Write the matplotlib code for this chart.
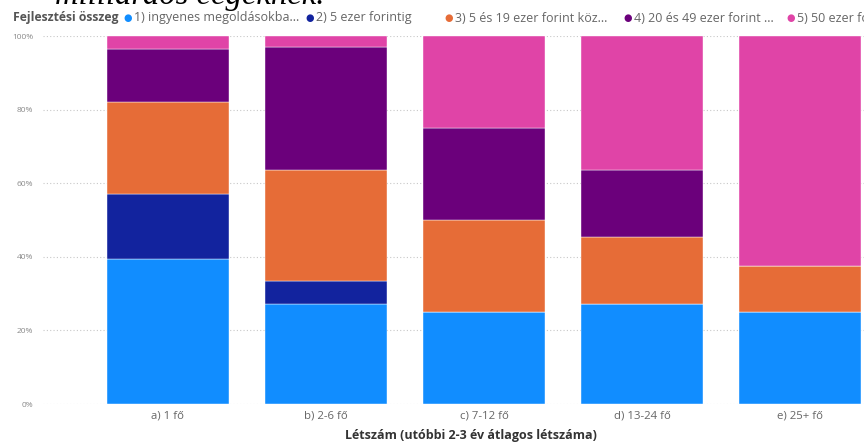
import numpy as np
import matplotlib.pyplot as plt

# share of answers (%) per headcount group, stacked bottom to top
categories = ["a) 1 fő", "b) 2-6 fő", "c) 7-12 fő", "d) 13-24 fő", "e) 25+ fő"]
ingyenes = [39.3, 27.3, 25.0, 27.3, 25.0]
ezer_5 = [17.9, 6.1, 0.0, 0.0, 0.0]
ezer_5_19 = [25.0, 30.3, 25.0, 18.2, 12.5]
ezer_20_49 = [14.3, 33.3, 25.0, 18.2, 0.0]
ezer_50 = [3.5, 3.0, 25.0, 36.3, 62.5]

series = [ingyenes, ezer_5, ezer_5_19, ezer_20_49, ezer_50]
legend_labels = ["1) ingyenes megoldásokba...", "2) 5 ezer forintig",
                 "3) 5 és 19 ezer forint köz...", "4) 20 és 49 ezer forint ...",
                 "5) 50 ezer forint felett"]
colors = ["#118DFF", "#12239E", "#E66C37", "#6B007B", "#E044A7"]

W, H = 864, 444
fig = plt.figure(figsize=(W / 100, H / 100), dpi=100)
ax = fig.add_axes([43 / W, 40 / H, 1 - 43 / W, 368 / H])

x = np.arange(len(categories))
bottom = np.zeros(len(categories))
for vals, col in zip(series, colors):
    vals = np.array(vals)
    ax.bar(x, vals, width=0.772, bottom=bottom, color=col,
           edgecolor="white", linewidth=0.3, zorder=2)
    bottom += vals

ax.set_xlim(-0.791, 4.405)
ax.set_ylim(0, 100)
ax.set_yticks([0, 20, 40, 60, 80, 100])
ax.set_yticklabels(["%d%%" % v for v in [0, 20, 40, 60, 80, 100]],
                   fontsize=6, color="#8a8a8a", family="Open Sans")
ax.set_xticks(x)
ax.set_xticklabels(categories, fontsize=8.2, color="#666666", family="Open Sans")
ax.tick_params(length=0)
ax.tick_params(axis="y", pad=7)
ax.tick_params(axis="x", pad=5)
ax.grid(axis="y", linestyle=(0, (1, 2)), color="#c8c8c8", linewidth=0.8, zorder=0)
for s in ax.spines.values():
    s.set_visible(False)

fig.text(471 / W, 1 - 435 / H, "Létszám (utóbbi 2-3 év átlagos létszáma)",
         ha="center", va="center", fontsize=9, fontweight="bold",
         color="#333333", family="Open Sans")

# legend row along the top
ly = 1 - 18 / H
fig.text(13 / W, ly, "Fejlesztési összeg", ha="left", va="center",
         fontsize=8.8, fontweight="bold", color="#555555", family="Open Sans")
marker_x = [128, 310, 449, 628, 791]
for mx, lab, col in zip(marker_x, legend_labels, colors):
    fig.text(mx / W, ly, "●", ha="center", va="center", fontsize=7,
             color=col, family="DejaVu Sans")
    fig.text((mx + 6) / W, ly, lab, ha="left", va="center", fontsize=9,
             color="#666666", family="Open Sans")

fig.text(55 / W, 1 - 4 / H, "milliárdos cégeknek.", ha="left", va="baseline",
         fontsize=23.5, style="italic", color="black", family="Liberation Serif")

fig.savefig("out.png", dpi=100)
